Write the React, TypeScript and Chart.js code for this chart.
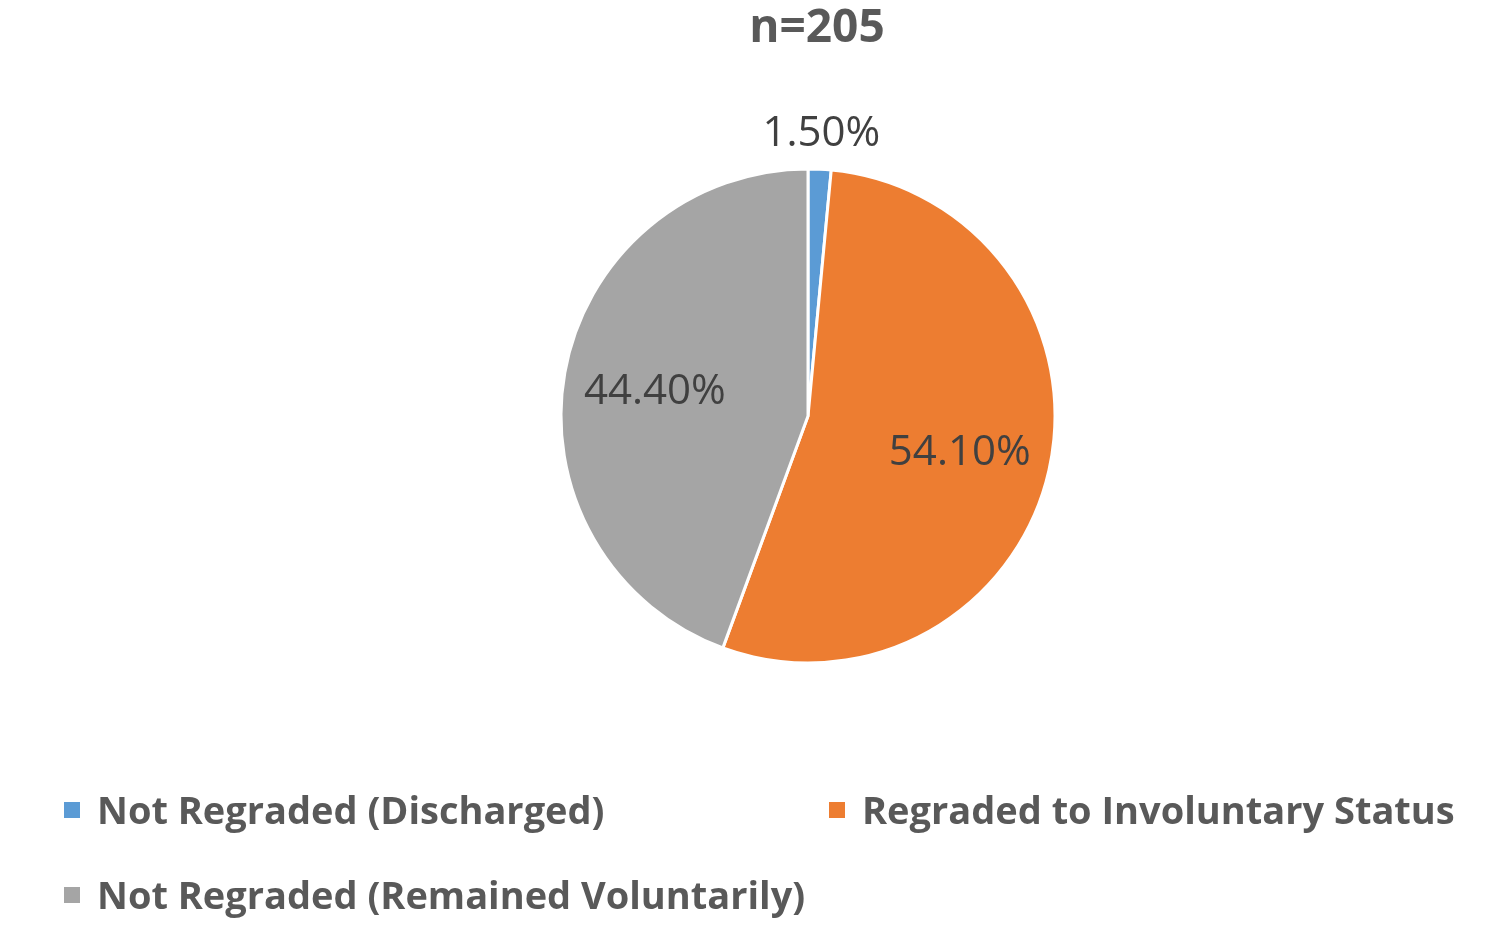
import React, { useEffect, useRef } from "react";
import { Chart, registerables } from "chart.js";

Chart.register(...registerables);

const titleText = "n=205";
const categories = [
  "Not Regraded (Discharged)",
  "Regraded to Involuntary Status",
  "Not Regraded (Remained Voluntarily)",
];
const percentValues = [1.5, 54.1, 44.4];
const sliceColors = ["#5B9BD5", "#ED7D31", "#A5A5A5"];

const labelFont = '400 42px "Open Sans", "Liberation Sans", sans-serif';
const legendFont = '700 38px "Open Sans", "Liberation Sans", sans-serif';
const titleFont = '700 46px "Open Sans", "Liberation Sans", sans-serif';

const decorPlugin = {
  id: "decor",
  afterDatasetsDraw(chart: any) {
    const ctx = chart.ctx;
    const meta = chart.getDatasetMeta(0);
    ctx.save();
    // data labels
    ctx.font = labelFont;
    ctx.fillStyle = "#404040";
    ctx.textAlign = "center";
    ctx.textBaseline = "alphabetic";
    meta.data.forEach((arc: any, i: number) => {
      const p = arc.getProps(["x", "y", "startAngle", "endAngle", "outerRadius"], true);
      const mid = (p.startAngle + p.endAngle) / 2;
      const v = percentValues[i];
      const r = v < 5 ? p.outerRadius + 38 : p.outerRadius * 0.63;
      const x = p.x + Math.cos(mid) * r;
      const y = p.y + Math.sin(mid) * r;
      ctx.fillText(v.toFixed(2) + "%", x, y + 15);
    });

    // title
    ctx.font = titleFont;
    ctx.fillStyle = "#595959";
    ctx.fillText(titleText, 817, 42);

    // legend
    const legendPos = [
      { x: 64, y: 824 },
      { x: 829, y: 824 },
      { x: 64, y: 909 },
    ];
    ctx.font = legendFont;
    ctx.textAlign = "left";
    categories.forEach((c, i) => {
      const lp = legendPos[i];
      ctx.fillStyle = sliceColors[i];
      ctx.fillRect(lp.x, lp.y - 22, 16, 16);
      ctx.fillStyle = "#595959";
      ctx.fillText(c, lp.x + 33, lp.y);
    });
    ctx.restore();
  },
};

export default function App() {
  const ref = useRef<HTMLCanvasElement | null>(null);
  useEffect(() => {
    document.body.style.margin = "0";
    const canvas = ref.current;
    if (!canvas) return;
    const chart = new Chart(canvas, {
      type: "pie",
      data: {
        labels: categories,
        datasets: [
          {
            data: percentValues,
            backgroundColor: sliceColors,
            borderColor: "#FFFFFF",
            borderWidth: 3,
          },
        ],
      },
      options: {
        responsive: false,
        animation: false,
        layout: {
          padding: { left: 559.5, right: 436.5, top: 167.5, bottom: 262.5 },
        },
        plugins: {
          legend: { display: false },
          title: { display: false },
          tooltip: { enabled: false },
        },
      },
      plugins: [decorPlugin],
    });
    return () => chart.destroy();
  }, []);
  return (
    <div style={{ width: 1493, height: 927, background: "#fff" }}>
      <canvas ref={ref} width={1493} height={927} style={{ display: "block" }} />
    </div>
  );
}
